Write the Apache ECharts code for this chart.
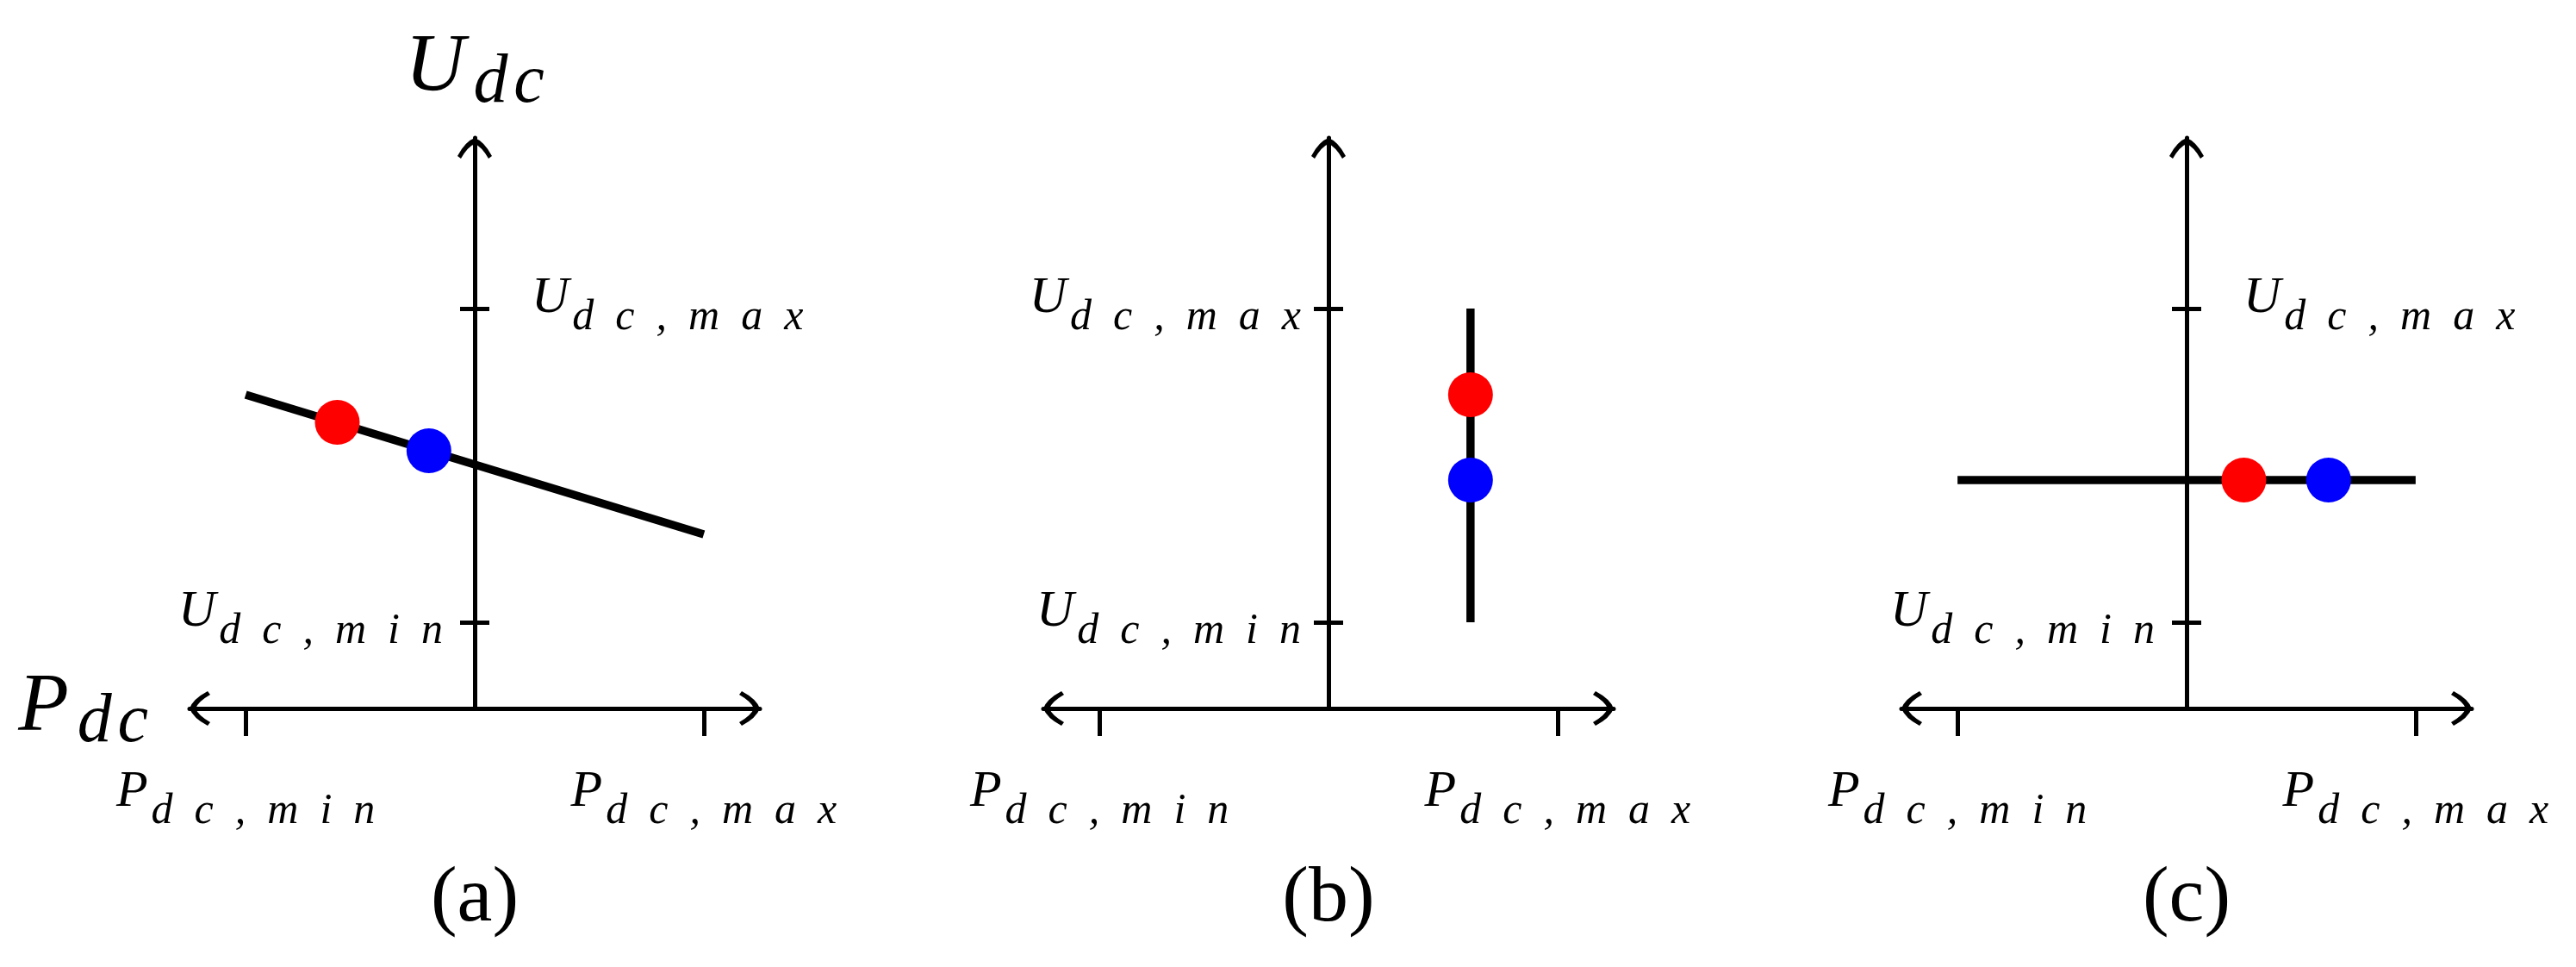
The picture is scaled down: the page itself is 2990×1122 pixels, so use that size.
<!DOCTYPE html>
<html><head><meta charset="utf-8">
<script src="https://cdn.jsdelivr.net/npm/echarts@6/dist/echarts.min.js"></script>
<style>html,body{margin:0;padding:0;background:#fff}#c{width:2990px;height:1122px}</style>
</head><body><div id="c"></div>
<script>
// ---- data ----
const captions = ['(a)', '(b)', '(c)'];
const xRange = [-1.245, 1.245];
const yRange = [0, 6.62];
const xTickValues = [-1, 1];
const xTickLabels = [['P', 'dc,min'], ['P', 'dc,max']];
const yTickValues = [1, 4.64];
const yTickLabels = [['U', 'dc,min'], ['U', 'dc,max']];
const xAxisName = ['P', 'dc'];
const yAxisName = ['U', 'dc'];
const lineA = [[-1, 3.64], [1, 2.02]];
const redA = [[-0.6, 3.32]];
const blueA = [[-0.2, 2.99]];
const lineB = [[0.62, 1], [0.62, 4.64]];
const redB = [[0.62, 3.64]];
const blueB = [[0.62, 2.65]];
const lineC = [[-1, 2.65], [1, 2.65]];
const redC = [[0.25, 2.65]];
const blueC = [[0.62, 2.65]];
const yLabelsLeft = [[1], [1, 4.64], [1]];
const yLabelsRight = [[4.64], [], [4.64]];

// ---- layout / style ----
const FONT = 'Liberation Serif';
const gridLeft = [220, 1211, 2207];
const gridTop = 160;
const gridSize = 662;
const yLabelMarginLeft = [37, 32, 37];
const ARROW = 'path://M20,0 Q31,4 40,21 L36,24 Q28,10 20,7 Q12,10 4,24 L0,21 Q9,4 20,0 Z';
const AXIS_W = 5;

const tickRich = {
  m: { fontFamily: FONT, fontStyle: 'italic', fontSize: 60, color: '#000', padding: [0, 4, 0, 0] },
  s: { fontFamily: FONT, fontStyle: 'italic', fontSize: 50, color: '#000', padding: [46, 0, 0, 0] }
};
const nameRich = {
  M: { fontFamily: FONT, fontStyle: 'italic', fontSize: 96, color: '#000', padding: [0, 10, 0, 0] },
  S: { fontFamily: FONT, fontStyle: 'italic', fontSize: 80, color: '#000', padding: [34, 0, 0, 0] }
};
function tickText(pair) {
  return '{m|' + pair[0] + '}{s|' + pair[1].split('').join('\u2002') + '}';
}
function nameText(pair) {
  return '{M|' + pair[0] + '}{S|' + pair[1].split('').join('\u200A') + '}';
}
function nearestIdx(vals, v) {
  let best = 0;
  vals.forEach((t, i) => { if (Math.abs(t - v) < Math.abs(vals[best] - v)) best = i; });
  return best;
}
const yOffset = -gridSize * (0 - xRange[0]) / (xRange[1] - xRange[0]);

const grids = [], xAxes = [], yAxes = [], series = [];
const panelData = [[lineA, redA, blueA], [lineB, redB, blueB], [lineC, redC, blueC]];

for (let g = 0; g < 3; g++) {
  grids.push({ left: gridLeft[g], top: gridTop, width: gridSize, height: gridSize, containLabel: false, outerBoundsMode: 'none' });
  xAxes.push({
    type: 'value', gridIndex: g, min: xRange[0], max: xRange[1], position: 'bottom',
    axisLine: { show: true, onZero: false, lineStyle: { color: '#000', width: AXIS_W },
      symbol: [ARROW, ARROW], symbolSize: [40, 24], symbolOffset: [12, -12] },
    axisTick: { show: true, customValues: xTickValues, length: 32, lineStyle: { color: '#000', width: AXIS_W } },
    axisLabel: { show: true, customValues: xTickValues, margin: 49,
      formatter: v => tickText(xTickLabels[nearestIdx(xTickValues, v)]), rich: tickRich },
    splitLine: { show: false },
    name: g === 0 ? nameText(xAxisName) : '', nameLocation: 'start', nameGap: 48, nameMoveOverlap: false,
    nameTextStyle: { rich: nameRich }
  });
  xAxes.push({
    type: 'value', gridIndex: g, min: xRange[0], max: xRange[1], position: 'bottom',
    axisLine: { show: false, onZero: false }, axisTick: { show: false }, axisLabel: { show: false },
    splitLine: { show: false },
    name: captions[g], nameLocation: 'middle', nameGap: 176, nameMoveOverlap: false,
    nameTextStyle: { fontFamily: FONT, fontSize: 92, color: '#000' }
  });
  yAxes.push({
    type: 'value', gridIndex: g, min: yRange[0], max: yRange[1], position: 'left', offset: yOffset,
    axisLine: { show: true, onZero: false, lineStyle: { color: '#000', width: AXIS_W },
      symbol: ['none', ARROW], symbolSize: [40, 24], symbolOffset: [0, -12] },
    axisTick: { show: true, customValues: yTickValues, length: 17, lineStyle: { color: '#000', width: AXIS_W } },
    axisLabel: { show: yLabelsLeft[g].length > 0, customValues: yLabelsLeft[g], margin: yLabelMarginLeft[g], padding: [0, 0, 24, 0],
      formatter: v => tickText(yTickLabels[nearestIdx(yTickValues, v)]), rich: tickRich },
    splitLine: { show: false },
    name: g === 0 ? nameText(yAxisName) : '', nameLocation: 'end', nameGap: 23, nameMoveOverlap: false,
    nameTextStyle: { rich: nameRich }
  });
  yAxes.push({
    type: 'value', gridIndex: g, min: yRange[0], max: yRange[1], position: 'left', offset: yOffset,
    axisLine: { show: false, onZero: false },
    axisTick: { show: true, inside: true, customValues: yTickValues, length: 17, lineStyle: { color: '#000', width: AXIS_W } },
    axisLabel: { show: yLabelsRight[g].length > 0, inside: true, customValues: yLabelsRight[g].length ? yLabelsRight[g] : [1], margin: 66, padding: [0, 0, 24, 0],
      formatter: v => tickText(yTickLabels[nearestIdx(yTickValues, v)]), rich: tickRich },
    splitLine: { show: false }
  });
  const [ln, rd, bl] = panelData[g];
  series.push({ type: 'line', xAxisIndex: 2 * g, yAxisIndex: 2 * g, data: ln, symbol: 'none', showSymbol: false,
    lineStyle: { color: '#000', width: 9.5 }, clip: false, silent: true, z: 3 });
  series.push({ type: 'scatter', xAxisIndex: 2 * g, yAxisIndex: 2 * g, data: rd, symbolSize: 52,
    itemStyle: { color: '#ff0000', opacity: 1 }, clip: false, silent: true, z: 4 });
  series.push({ type: 'scatter', xAxisIndex: 2 * g, yAxisIndex: 2 * g, data: bl, symbolSize: 52,
    itemStyle: { color: '#0000ff', opacity: 1 }, clip: false, silent: true, z: 4 });
}

const chart = echarts.init(document.getElementById('c'), null, { renderer: 'canvas' });
chart.setOption({
  backgroundColor: '#fff',
  animation: false,
  tooltip: { show: false },
  grid: grids,
  xAxis: xAxes,
  yAxis: yAxes,
  series: series
});
</script>
</body></html>
